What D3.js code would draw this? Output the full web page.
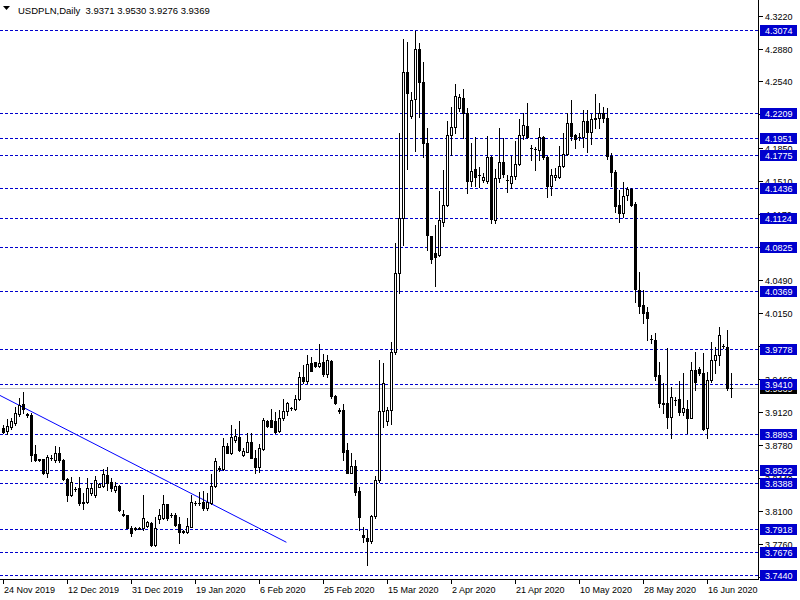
<!DOCTYPE html>
<html><head><meta charset="utf-8">
<script src="https://cdn.jsdelivr.net/npm/d3@7"></script>
<style>
body{margin:0;background:#fff}
svg{display:block}
text{font-family:"Liberation Sans",Arial,sans-serif;font-size:9px;white-space:pre}
</style>
</head><body>
<svg id="chart" width="800" height="600"></svg>
<script>
const symbolLabel = "USDPLN,Daily";
const lastOHLC = [3.9371, 3.9530, 3.9276, 3.9369];

const open = [3.8961,3.8930,3.8972,3.9013,3.9099,3.9203,3.9099,3.9092,3.8689,3.8634,
3.8638,3.8489,3.8651,3.8627,3.8703,3.8627,3.8431,3.8265,3.8324,3.8334,
3.8197,3.8190,3.8283,3.8265,3.8352,3.8359,3.8472,3.8403,3.8317,3.8359,
3.8069,3.8059,3.7928,3.7921,3.7921,3.7921,3.7945,3.7979,3.7749,3.8014,
3.8024,3.8172,3.8062,3.8059,3.7966,3.7890,3.7887,3.7938,3.8186,3.8186,
3.8197,3.8128,3.8180,3.8362,3.8538,3.8531,3.8772,3.8703,3.8834,3.8869,
3.8679,3.8714,3.8810,3.8652,3.8552,3.8738,3.9031,3.9041,3.9031,3.8927,
3.9058,3.9134,3.9162,3.9155,3.9254,3.9482,3.9447,3.9633,3.9637,3.9599,
3.9644,3.9513,3.9654,3.9289,3.9144,3.9144,3.8731,3.8497,3.8565,3.8311,
3.7852,3.7818,3.7794,3.8049,3.8421,3.9134,3.9034,3.9144,3.9747,4.0557,
4.1132,4.2635,4.2186,4.2356,4.2876,4.2531,4.1901,4.0943,4.0764,4.0746,
4.1090,4.1263,4.1987,4.2066,4.2263,4.2366,4.2217,4.1514,4.1632,4.1572,
4.1522,4.1514,4.1762,4.1108,4.1539,4.1711,4.1524,4.1494,4.1563,4.1687,
4.1987,4.2080,4.1851,4.1842,4.1832,4.1963,4.1756,4.1463,4.1556,4.1549,
4.1666,4.1787,4.2108,4.1987,4.1965,4.1963,4.2131,4.2021,4.2159,4.2159,
4.2217,4.2159,4.1770,4.1601,4.1263,4.1177,4.1366,4.1425,4.1270,4.0385,
4.0230,4.0154,3.9880,3.9868,3.9506,3.9214,3.9213,3.9075,3.9250,3.9255,
3.9127,3.9151,3.9065,3.9558,3.9568,3.9530,3.8955,3.9454,3.9661,3.9713,
3.9807,3.9799,3.9371];
const high = [3.8989,3.9048,3.9058,3.9178,3.9265,3.9327,3.9116,3.9110,3.8782,3.8641,
3.8641,3.8679,3.8675,3.8775,3.8765,3.8634,3.8438,3.8455,3.8345,3.8448,
3.8290,3.8445,3.8393,3.8462,3.8393,3.8531,3.8551,3.8438,3.8403,3.8365,
3.8110,3.8059,3.7949,3.7938,3.7938,3.8265,3.8000,3.7990,3.8041,3.8117,
3.8265,3.8172,3.8083,3.8076,3.8041,3.7904,3.8024,3.8265,3.8203,3.8300,
3.8311,3.8283,3.8479,3.8652,3.8565,3.8858,3.8807,3.8989,3.8944,3.9034,
3.8748,3.8910,3.8903,3.8731,3.8793,3.9058,3.9041,3.9155,3.9127,3.9144,
3.9254,3.9230,3.9179,3.9299,3.9540,3.9609,3.9713,3.9695,3.9644,3.9826,
3.9723,3.9713,3.9661,3.9299,3.9168,3.9206,3.8800,3.8703,3.8627,3.8352,
3.7938,3.7904,3.8059,3.8462,3.9661,3.9627,3.9179,3.9850,4.0867,4.2007,
4.2979,4.2948,4.2434,4.3062,4.2941,4.2744,4.2056,4.0943,4.1056,4.1408,
4.1625,4.2131,4.2273,4.2514,4.2410,4.2462,4.2263,4.1901,4.1963,4.1659,
4.1591,4.1976,4.1770,4.1632,4.2062,4.1952,4.1573,4.1770,4.1928,4.2149,
4.2217,4.2314,4.1883,4.1866,4.2056,4.1976,4.1773,4.1635,4.1649,4.1873,
4.2004,4.2211,4.2348,4.1994,4.2010,4.2245,4.2245,4.2200,4.2407,4.2314,
4.2279,4.2263,4.1804,4.1625,4.1418,4.1504,4.1452,4.1436,4.1297,4.0574,
4.0385,4.0212,3.9919,3.9937,3.9643,3.9420,3.9782,3.9379,3.9282,3.9447,
3.9523,3.9248,3.9643,3.9747,3.9592,3.9730,3.9540,3.9851,3.9799,4.0005,
3.9823,3.9971,3.9530];
const low = [3.8903,3.8896,3.8944,3.8989,3.9082,3.9110,3.9075,3.8617,3.8617,3.8613,
3.8482,3.8448,3.8627,3.8610,3.8603,3.8421,3.8207,3.8259,3.8303,3.8166,
3.8121,3.8183,3.8262,3.8248,3.8345,3.8345,3.8317,3.8310,3.8300,3.8104,
3.8048,3.7921,3.7842,3.7904,3.7911,3.7904,3.7931,3.7742,3.7742,3.7979,
3.8014,3.8007,3.8035,3.7949,3.7772,3.7876,3.7876,3.7931,3.8162,3.8162,
3.8111,3.8111,3.8173,3.8352,3.8517,3.8524,3.8696,3.8690,3.8817,3.8724,
3.8669,3.8707,3.8645,3.8490,3.8507,3.8731,3.8972,3.8965,3.8910,3.8920,
3.9041,3.9093,3.9144,3.9144,3.9247,3.9427,3.9427,3.9547,3.9592,3.9592,
3.9496,3.9489,3.9265,3.9206,3.9117,3.8627,3.8490,3.8490,3.8266,3.7904,
3.7783,3.7542,3.7766,3.8025,3.8404,3.8972,3.8989,3.9000,3.9720,4.0357,
4.0850,4.1635,4.2159,4.1824,4.2176,4.1762,4.0798,4.0661,4.0429,4.0739,
4.1049,4.1253,4.1780,4.2004,4.2238,4.1952,4.1384,4.1463,4.1463,4.1452,
4.1504,4.1487,4.1074,4.1074,4.1504,4.1556,4.1401,4.1436,4.1529,4.1673,
4.1942,4.1952,4.1728,4.1625,4.1728,4.1739,4.1349,4.1366,4.1521,4.1545,
4.1659,4.1780,4.1935,4.1849,4.1935,4.1866,4.1814,4.1891,4.2062,4.2056,
4.2124,4.1739,4.1463,4.1188,4.1084,4.1142,4.1315,4.1256,4.0264,4.0150,
4.0040,3.9868,3.9834,3.9454,3.9172,3.9110,3.8955,3.8852,3.9196,3.9093,
3.9093,3.8903,3.9058,3.9351,3.9506,3.8938,3.8852,3.9437,3.9524,3.9609,
3.9782,3.9351,3.9276];
const close = [3.8913,3.8979,3.9030,3.9116,3.9196,3.9151,3.9096,3.8679,3.8627,3.8624,
3.8489,3.8655,3.8648,3.8696,3.8627,3.8427,3.8265,3.8396,3.8328,3.8179,
3.8179,3.8341,3.8341,3.8421,3.8379,3.8479,3.8386,3.8334,3.8359,3.8110,
3.8062,3.7928,3.7876,3.7918,3.7914,3.8024,3.7983,3.7749,3.7928,3.8059,
3.8172,3.8024,3.8055,3.7955,3.7887,3.7883,3.7945,3.8190,3.8183,3.8183,
3.8128,3.8197,3.8362,3.8617,3.8541,3.8772,3.8703,3.8869,3.8876,3.8731,
3.8717,3.8810,3.8652,3.8552,3.8748,3.9041,3.8982,3.8972,3.8920,3.9058,
3.9134,3.9213,3.9165,3.9254,3.9482,3.9447,3.9616,3.9547,3.9599,3.9633,
3.9513,3.9661,3.9289,3.9220,3.9137,3.8714,3.8497,3.8565,3.8300,3.8035,
3.7828,3.7794,3.8049,3.8421,3.9134,3.9420,3.9144,3.9747,4.0560,4.1132,
4.2635,4.2418,4.2348,4.2876,4.2531,4.1901,4.0953,4.0702,4.0729,4.1108,
4.1263,4.1987,4.2072,4.2390,4.2376,4.2211,4.1514,4.1618,4.1556,4.1570,
4.1552,4.1762,4.1118,4.1539,4.1704,4.1580,4.1521,4.1563,4.1687,4.1987,
4.2090,4.1963,4.1849,4.1838,4.1963,4.1756,4.1463,4.1573,4.1573,4.1666,
4.1787,4.2108,4.1976,4.1942,4.1962,4.2131,4.2021,4.2152,4.2149,4.2211,
4.2159,4.1770,4.1601,4.1256,4.1177,4.1356,4.1425,4.1263,4.0395,4.0222,
4.0150,4.0098,3.9877,3.9499,3.9213,3.9211,3.9075,3.9275,3.9245,3.9127,
3.9162,3.9065,3.9558,3.9437,3.9524,3.8945,3.9454,3.9661,3.9713,3.9919,
3.9805,3.9369,3.9369];

const dateLabels = ["24 Nov 2019","12 Dec 2019","31 Dec 2019","19 Jan 2020","6 Feb 2020","25 Feb 2020",
"15 Mar 2020","2 Apr 2020","21 Apr 2020","10 May 2020","28 May 2020","16 Jun 2020"];
const dateBars = [0,16,32,48,64,80,96,112,128,144,160,176];

const priceTicks = [4.3220,4.2880,4.2540,4.2200,4.1850,4.1510,4.1170,4.0830,4.0490,4.0150,
3.9810,3.9460,3.9120,3.8780,3.8440,3.8100,3.7760,3.7420];
const levels = [4.3074,4.2209,4.1951,4.1775,4.1436,4.1124,4.0825,4.0369,3.9778,3.9410,
3.8893,3.8522,3.8388,3.7918,3.7676,3.7440];
const bidPrice = 3.9369;
const trendBars = [-0.83, 70.85];
const trendPrices = [3.9296, 3.7777];

const W = 800, H = 600;
const plotRight = 758, plotBottom = 579;
const svg = d3.select("#chart");
svg.append("rect").attr("width",W).attr("height",H).attr("fill","#fff");

const x = d3.scaleLinear().domain([0, open.length-1]).range([3, 3 + 4*(open.length-1)]);
const y = d3.scaleLinear().domain([3.7387, 4.3382]).range([580, 0]);
const py = v => Math.round(y(v));

svg.append("clipPath").attr("id","plot").append("rect")
  .attr("x",0).attr("y",0).attr("width",plotRight).attr("height",plotBottom);

const g = svg.append("g").attr("clip-path","url(#plot)").attr("shape-rendering","crispEdges");

// horizontal levels
g.selectAll("line.lvl").data(levels).join("line")
  .attr("x1",0).attr("x2",plotRight)
  .attr("y1",d=>py(d)+0.5).attr("y2",d=>py(d)+0.5)
  .attr("stroke","#0000cd").attr("stroke-dasharray","3,2");

// bid line
g.append("line").attr("x1",0).attr("x2",plotRight)
  .attr("y1",py(bidPrice)+0.5).attr("y2",py(bidPrice)+0.5)
  .attr("stroke","#c0c0c0");

// trendline
g.append("line")
  .attr("x1",x(trendBars[0])).attr("y1",y(trendPrices[0]))
  .attr("x2",x(trendBars[1])).attr("y2",y(trendPrices[1]))
  .attr("stroke","#0000ff").attr("stroke-width",1).attr("shape-rendering","auto");

// candles
const idx = d3.range(open.length);
const cg = g.selectAll("g.c").data(idx).join("g");
cg.append("line")
  .attr("x1",i=>Math.round(x(i))+0.5).attr("x2",i=>Math.round(x(i))+0.5)
  .attr("y1",i=>py(high[i])).attr("y2",i=>py(low[i])+1)
  .attr("stroke","#000");
cg.each(function(i){
  const c = Math.round(x(i));
  const t = py(Math.max(open[i],close[i])), b = py(Math.min(open[i],close[i]));
  const sel = d3.select(this);
  if (b - t < 1) {
    sel.append("rect").attr("x",c-1).attr("y",t).attr("width",3).attr("height",1).attr("fill","#000");
  } else if (close[i] >= open[i]) {
    sel.append("rect").attr("x",c-0.5).attr("y",t+0.5).attr("width",2).attr("height",b-t)
      .attr("fill","#fff").attr("stroke","#000");
  } else {
    sel.append("rect").attr("x",c-1).attr("y",t).attr("width",3).attr("height",b-t+1).attr("fill","#000");
  }
});

// frame
const fr = svg.append("g").attr("shape-rendering","crispEdges");
fr.append("line").attr("x1",plotRight+0.5).attr("x2",plotRight+0.5).attr("y1",0).attr("y2",plotBottom+1).attr("stroke","#000");
fr.append("line").attr("x1",0).attr("x2",plotRight+1).attr("y1",plotBottom+0.5).attr("y2",plotBottom+0.5).attr("stroke","#000");

// right axis ticks
const ra = svg.append("g");
ra.selectAll("line").data(priceTicks).join("line")
  .attr("x1",plotRight+1).attr("x2",plotRight+5)
  .attr("y1",d=>py(d)+0.5).attr("y2",d=>py(d)+0.5)
  .attr("stroke","#000").attr("shape-rendering","crispEdges");
ra.selectAll("text").data(priceTicks).join("text")
  .attr("x",765).attr("y",d=>py(d)+3.5).attr("fill","#000")
  .text(d=>d.toFixed(4));

// bid label
const bl = svg.append("g");
bl.append("rect").attr("x",760).attr("y",py(bidPrice)-5).attr("width",37).attr("height",11).attr("fill","#000");
bl.append("text").attr("x",765).attr("y",py(bidPrice)+3.5).attr("fill","#fff").text(bidPrice.toFixed(4));

// level labels
const ll = svg.append("g");
ll.selectAll("rect").data(levels).join("rect")
  .attr("x",760).attr("y",d=>py(d)-5).attr("width",37).attr("height",11).attr("fill","#0000cd");
ll.selectAll("text").data(levels).join("text")
  .attr("x",765).attr("y",d=>py(d)+3.5).attr("fill","#fff").text(d=>d.toFixed(4));

// bottom axis
const ba = svg.append("g");
ba.selectAll("line").data(dateBars).join("line")
  .attr("x1",d=>Math.round(x(d))+0.5).attr("x2",d=>Math.round(x(d))+0.5)
  .attr("y1",plotBottom+1).attr("y2",plotBottom+5)
  .attr("stroke","#000").attr("shape-rendering","crispEdges");
ba.selectAll("text").data(dateLabels).join("text")
  .attr("x",(d,i)=>Math.round(x(dateBars[i]))+1).attr("y",593).attr("fill","#000")
  .text(d=>d);

// header
svg.append("path").attr("d","M3,6 L10,6 L6.5,10 Z").attr("fill","#000");
svg.append("text").attr("x",18).attr("y",14).attr("fill","#000").style("font-size","9.5px")
  .text(symbolLabel + "  " + lastOHLC.map(v=>v.toFixed(4)).join(" "));
</script>
</body></html>
